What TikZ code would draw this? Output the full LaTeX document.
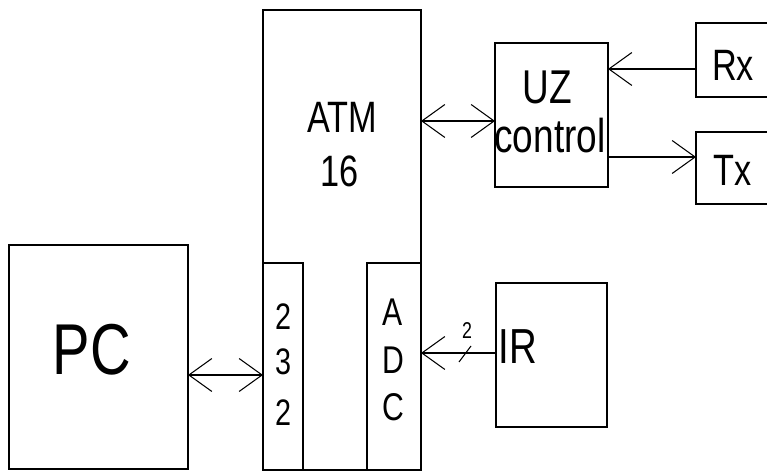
\documentclass[tikz,border=0pt]{standalone}
\usepackage{fontspec}
\setmainfont{Liberation Sans}
\usetikzlibrary{arrows.meta}
\newcommand{\nf}[2]{{\fontsize{#1}{#1}\selectfont\scalebox{0.78}[1]{#2}}}
\begin{document}
\begin{tikzpicture}[x=0.02cm,y=-0.02cm,
  box/.style={draw,line width=0.8pt,inner sep=0pt,outer sep=0pt,rectangle},
  lbl/.style={inner sep=0pt,outer sep=0pt,anchor=center},
  arr/.style={line width=0.7pt,arrows={-Straight Barb[length=0.46cm,width=0.66cm,line width=0.6pt]}},
  darr/.style={line width=0.7pt,arrows={Straight Barb[length=0.46cm,width=0.66cm,line width=0.6pt]-Straight Barb[length=0.46cm,width=0.66cm,line width=0.6pt]}}]
\useasboundingbox (0,0) rectangle (767,475);
\begin{scope}
\clip (0,0) rectangle (767,475);
% boxes
\node[box,minimum width=3.16cm,minimum height=9.2cm] (atm) at (342,240) {};
\node[box,minimum width=0.8cm,minimum height=4.14cm] (s232) at (283,366.5) {};
\node[box,minimum width=1.08cm,minimum height=4.14cm] (adc) at (394,366.5) {};
\node[box,minimum width=3.58cm,minimum height=4.48cm] (pc) at (98.5,357) {};
\node[box,minimum width=2.26cm,minimum height=2.88cm] (uz) at (551.5,115) {};
\node[box,minimum width=2.22cm,minimum height=2.88cm] (ir) at (551.5,355) {};
\node[box,minimum width=2.08cm,minimum height=1.48cm] (rx) at (748,60) {};
\node[box,minimum width=2.08cm,minimum height=1.44cm] (tx) at (748,168) {};
\end{scope}
% labels
\node[lbl] (tatm) at (342,117) {\nf{25pt}{ATM}};
\node[lbl] (t16) at (340,171) {\nf{25pt}{16}};
\node[lbl] (tuz) at (547,87) {\nf{27pt}{UZ}};
\node[lbl] (tcontrol) at (550,136) {\nf{27pt}{control}};
\node[lbl] (trx) at (733,65) {\nf{25pt}{Rx}};
\node[lbl] (ttx) at (733,170) {\nf{25pt}{Tx}};
\node[lbl] (tpc) at (92,350) {\nf{41pt}{PC}};
\node[lbl] (tir) at (518,347) {\nf{28pt}{IR}};
\node[lbl] (t2a) at (283,317) {\nf{21pt}{2}};
\node[lbl] (t3) at (283,362) {\nf{21pt}{3}};
\node[lbl] (t2b) at (283,413) {\nf{21pt}{2}};
\node[lbl] (ta) at (393,312) {\nf{22pt}{A}};
\node[lbl] (td) at (393,360) {\nf{22pt}{D}};
\node[lbl] (tc) at (393,407) {\nf{22pt}{C}};
\node[lbl] (tbus) at (467,331) {\nf{13pt}{2}};
% connector levels
\coordinate (y375) at (0,375);
\coordinate (y121) at (0,121);
\coordinate (y69) at (0,69);
\coordinate (y157) at (0,157);
\coordinate (y353) at (0,353);
\coordinate (sl1) at (459,362);
\coordinate (sl2) at (471,346);
% connectors
\draw[darr] (pc.east |- y375) -- (s232.west |- y375);
\draw[darr] (atm.east |- y121) -- (uz.west |- y121);
\draw[arr] (rx.west |- y69) -- (uz.east |- y69);
\draw[arr] (uz.east |- y157) -- (tx.west |- y157);
\draw[arr] (ir.west |- y353) -- (adc.east |- y353);
\draw[line width=0.6pt] (sl1) -- (sl2);
\end{tikzpicture}
\end{document}
